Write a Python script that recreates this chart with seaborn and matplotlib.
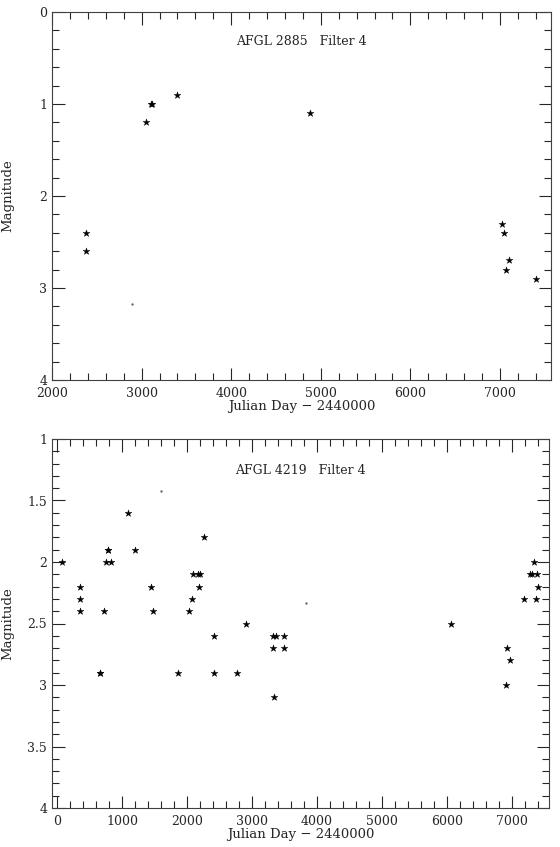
#!/usr/bin/env python

import pandas as pd
import seaborn as sns
from matplotlib import pyplot as plt
from matplotlib.ticker import MultipleLocator

# AFGL 2885, filter 4
jd_2885 = [2383, 2383, 3054, 3109, 3115, 3400, 4884, 7018, 7040, 7100, 7073, 7400]
mag_2885 = [2.4, 2.6, 1.2, 1.0, 1.0, 0.9, 1.1, 2.3, 2.4, 2.7, 2.8, 2.9]
faint_jd_2885 = [2897]
faint_mag_2885 = [3.17]

# AFGL 4219, filter 4
jd_4219 = [77, 354, 350, 350, 652, 660, 718, 750, 828, 775, 785, 1092, 1191,
           1446, 1482, 1852, 2031, 2077, 2098, 2165, 2195, 2175, 2257, 2406,
           2415, 2775, 2913, 3323, 3375, 3323, 3334, 3487, 3487, 6054, 6926,
           6968, 6905, 7185, 7333, 7280, 7305, 7380, 7401, 7370]
mag_4219 = [2.0, 2.2, 2.3, 2.4, 2.9, 2.9, 2.4, 2.0, 2.0, 1.9, 1.9, 1.6, 1.9,
            2.2, 2.4, 2.9, 2.4, 2.3, 2.1, 2.1, 2.1, 2.2, 1.8, 2.6,
            2.9, 2.9, 2.5, 2.6, 2.6, 2.7, 3.1, 2.6, 2.7, 2.5, 2.7,
            2.8, 3.0, 2.3, 2.0, 2.1, 2.1, 2.1, 2.2, 2.3]
faint_jd_4219 = [1600, 3826]
faint_mag_4219 = [1.425, 2.33]

df_top = pd.DataFrame({'jd': jd_2885, 'mag': mag_2885})
df_bot = pd.DataFrame({'jd': jd_4219, 'mag': mag_4219})

sns.set_style("ticks")
plt.rcParams['font.family'] = ['DejaVu Serif']
plt.rcParams['xtick.direction'] = 'in'
plt.rcParams['ytick.direction'] = 'in'

fig = plt.figure(figsize=(5.6, 8.47), dpi=100)
ax1 = fig.add_axes([52 / 560, 1 - 380 / 847, 499 / 560, 368 / 847])
ax2 = fig.add_axes([52 / 560, 1 - 808 / 847, 497 / 560, 369 / 847])

panels = [
    (ax1, df_top, faint_jd_2885, faint_mag_2885, (2000, 7570), (4, 0), 1, 0.2, 'AFGL 2885   Filter 4', 0.92),
    (ax2, df_bot, faint_jd_4219, faint_mag_4219, (-80, 7570), (4, 1), 0.5, 0.1, 'AFGL 4219   Filter 4', 0.915),
]

for ax, df, fx, fy, xlim, ylim, ymaj, ymin, title, ty in panels:
    sns.scatterplot(data=df, x='jd', y='mag', marker='*', s=26, color='black',
                    edgecolor='black', linewidth=0.3, ax=ax)
    ax.scatter(fx, fy, marker='.', s=2, color='0.4')
    ax.set_xlim(*xlim)
    ax.set_ylim(*ylim)
    ax.xaxis.set_major_locator(MultipleLocator(1000))
    ax.xaxis.set_minor_locator(MultipleLocator(200))
    ax.yaxis.set_major_locator(MultipleLocator(ymaj))
    ax.yaxis.set_minor_locator(MultipleLocator(ymin))
    ax.yaxis.set_major_formatter(plt.FuncFormatter(lambda v, p: f'{v:g}'))
    ax.tick_params(which='both', top=True, right=True, labelsize=9, width=0.8)
    ax.tick_params(axis='x', pad=5)
    ax.tick_params(which='major', length=9)
    ax.tick_params(which='minor', length=5)
    for sp in ax.spines.values():
        sp.set_linewidth(0.8)
        sp.set_color('0.25')
    ax.set_xlabel('Julian Day \u2212 2440000', fontsize=9.5, labelpad=0)
    ax.set_ylabel('Magnitude', fontsize=9.5)
    ax.yaxis.set_label_coords(-38 / 499, 0.5)
    ax.text(0.5, ty, title, transform=ax.transAxes, ha='center', va='center', fontsize=9)

plt.savefig('out.png', dpi=100)
